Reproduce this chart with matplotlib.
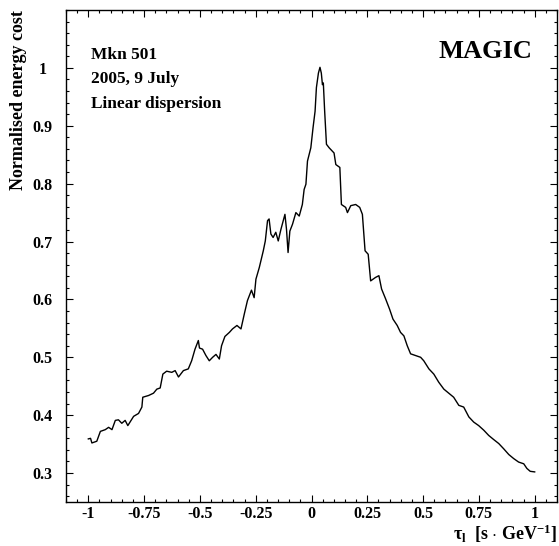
import numpy as np
import matplotlib.pyplot as plt
from matplotlib.ticker import MultipleLocator

plt.rcParams['font.family'] = ['Liberation Serif', 'DejaVu Serif']
plt.rcParams['font.weight'] = 'bold'
plt.rcParams['mathtext.fontset'] = 'custom'
plt.rcParams['mathtext.rm'] = 'Liberation Serif:bold'
plt.rcParams['mathtext.it'] = 'Liberation Serif:bold'
plt.rcParams['mathtext.bf'] = 'Liberation Serif:bold'

# dispersion parameter tau_l (s/GeV)
tau = [-1.000, -0.990, -0.984, -0.962, -0.946, -0.924, -0.909, -0.894, -0.879, -0.865,
       -0.850, -0.835, -0.823, -0.797, -0.775, -0.760, -0.756, -0.730, -0.708, -0.693,
       -0.678, -0.666, -0.649, -0.626, -0.611, -0.596, -0.574, -0.552, -0.537, -0.522,
       -0.507, -0.502, -0.488, -0.473, -0.458, -0.443, -0.428, -0.413, -0.403, -0.388,
       -0.368, -0.354, -0.334, -0.316, -0.301, -0.287, -0.269, -0.257, -0.249, -0.234,
       -0.216, -0.207, -0.197, -0.190, -0.182, -0.172, -0.160, -0.149, -0.137, -0.119,
       -0.112, -0.105, -0.097, -0.085, -0.070, -0.055, -0.041, -0.033, -0.025, -0.018,
       -0.003, 0.007, 0.016, 0.022, 0.031, 0.038, 0.044, 0.049, 0.053, 0.059,
       0.067, 0.079, 0.101, 0.109, 0.127, 0.134, 0.153, 0.161, 0.176, 0.198,
       0.216, 0.228, 0.240, 0.254, 0.265, 0.287, 0.302, 0.314, 0.332, 0.350,
       0.365, 0.384, 0.399, 0.414, 0.429, 0.444, 0.466, 0.489, 0.503, 0.526,
       0.548, 0.570, 0.593, 0.615, 0.637, 0.660, 0.682, 0.705, 0.727, 0.749,
       0.772, 0.794, 0.816, 0.839, 0.861, 0.884, 0.906, 0.928, 0.951, 0.965,
       0.980, 1.000]
cost = [0.359, 0.360, 0.352, 0.355, 0.372, 0.375, 0.379, 0.375, 0.391, 0.392,
        0.386, 0.391, 0.382, 0.398, 0.403, 0.414, 0.431, 0.434, 0.438, 0.445,
        0.447, 0.471, 0.476, 0.474, 0.477, 0.466, 0.477, 0.480, 0.494, 0.514,
        0.529, 0.516, 0.514, 0.503, 0.494, 0.500, 0.505, 0.497, 0.520, 0.536,
        0.543, 0.549, 0.555, 0.549, 0.575, 0.598, 0.616, 0.603, 0.635, 0.655,
        0.684, 0.701, 0.736, 0.739, 0.713, 0.707, 0.716, 0.701, 0.721, 0.747,
        0.721, 0.681, 0.718, 0.730, 0.750, 0.744, 0.764, 0.790, 0.799, 0.839,
        0.862, 0.897, 0.925, 0.966, 0.991, 1.001, 0.991, 0.971, 0.974, 0.925,
        0.868, 0.862, 0.853, 0.833, 0.828, 0.764, 0.759, 0.750, 0.762, 0.764,
        0.759, 0.747, 0.684, 0.678, 0.632, 0.638, 0.641, 0.618, 0.601, 0.583,
        0.566, 0.555, 0.543, 0.537, 0.520, 0.506, 0.503, 0.500, 0.494, 0.480,
        0.471, 0.457, 0.445, 0.438, 0.431, 0.417, 0.414, 0.397, 0.388, 0.382,
        0.374, 0.365, 0.358, 0.351, 0.342, 0.332, 0.325, 0.319, 0.316, 0.308,
        0.303, 0.302]

xticks = [-1, -0.75, -0.5, -0.25, 0, 0.25, 0.5, 0.75, 1]
xlabels = ['-1', '-0.75', '-0.5', '-0.25', '0', '0.25', '0.5', '0.75', '1']
yticks = [0.3, 0.4, 0.5, 0.6, 0.7, 0.8, 0.9, 1.0]
ylabels = ['0.3', '0.4', '0.5', '0.6', '0.7', '0.8', '0.9', '1']

fig = plt.figure(figsize=(5.59, 5.46), dpi=100)
ax = fig.add_axes([66/559, 1-502/546, 491/559, 492/546])

ax.plot(tau, cost, color='black', lw=1.0)

ax.set_xlim(-1.1, 1.1)
ax.set_ylim(0.25, 1.1)
ax.set_xticks(xticks, xlabels)
ax.set_yticks(yticks, ylabels)
ax.xaxis.set_minor_locator(MultipleLocator(0.05))
ax.yaxis.set_minor_locator(MultipleLocator(0.02))
ax.tick_params(which='both', direction='in', top=True, right=True, labelsize=11.5)
ax.tick_params(which='major', length=5, width=0.8)
ax.tick_params(which='minor', length=2.5, width=0.8)
ax.tick_params(axis='x', pad=3)
ax.tick_params(axis='y', pad=17)
for lbl in ax.get_yticklabels():
    lbl.set_horizontalalignment('center')
for s in ax.spines.values():
    s.set_linewidth(1.0)

ax.set_ylabel('Normalised energy cost', fontsize=13, fontweight='bold', loc='top', labelpad=4)
ax.set_xlabel(r'$\tau_{l}$  [s $\cdot$ GeV$^{-1}$]', fontsize=13, fontweight='bold',
              loc='right', labelpad=0)

ax.text(0.05, 0.925, 'Mkn 501\n2005, 9 July\nLinear dispersion', transform=ax.transAxes,
        fontsize=12.5, fontweight='bold', va='top', ha='left', linespacing=1.7)
ax.text(0.949, 0.915, 'MAGIC', transform=ax.transAxes, fontsize=19, fontweight='bold',
        va='center', ha='right')

fig.savefig('out.png', dpi=100)
